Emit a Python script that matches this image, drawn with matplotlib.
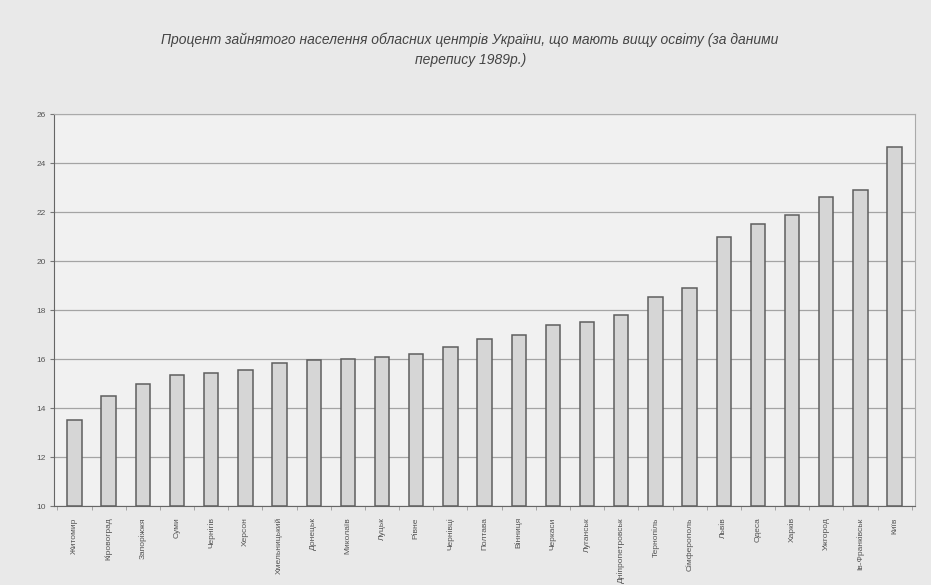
import matplotlib
matplotlib.use("Agg")
import matplotlib.pyplot as plt
import numpy as np

cities = ["Житомир", "Кіровоград", "Запоріжжя", "Суми", "Чернігів", "Херсон",
          "Хмельницький", "Донецьк", "Миколаїв", "Луцьк", "Рівне", "Чернівці",
          "Полтава", "Вінниця", "Черкаси", "Луганськ", "Дніпропетровськ",
          "Тернопіль", "Сімферополь", "Львів", "Одеса", "Харків", "Ужгород",
          "Ів-Франківськ", "Київ"]
values = [13.5, 14.5, 15.0, 15.35, 15.45, 15.55, 15.85, 15.95, 16.0, 16.1,
          16.2, 16.5, 16.8, 17.0, 17.4, 17.5, 17.8, 18.55, 18.9, 21.0, 21.5,
          21.9, 22.6, 22.9, 24.65]
yticks = [10, 12, 14, 16, 18, 20, 22, 24, 26]
title = "Процент зайнятого населення обласних центрів України, що мають вищу освіту (за даними\nперепису 1989р.)"

plt.rcParams['font.family'] = ['Liberation Sans', 'DejaVu Sans']

fig = plt.figure(figsize=(9.31, 5.85), dpi=100)
fig.patch.set_facecolor('#e9e9e9')
ax = fig.add_axes([0.058, 0.135, 0.925, 0.67])
ax.set_facecolor('#f1f1f1')

x = np.arange(len(cities))
ax.bar(x, [v - 10 for v in values], bottom=10, width=0.42, color='#d6d6d6',
       edgecolor='#5e5e5e', linewidth=1.1, zorder=3)

ax.set_ylim(10, 26)
ax.set_xlim(-0.6, len(cities) - 0.4)
ax.set_yticks(yticks)
ax.set_yticklabels([str(t) for t in yticks], fontsize=6, color='#555555')
ax.yaxis.grid(True, color='#a4a4a4', linewidth=0.9, zorder=0)
ax.tick_params(axis='y', length=3, color='#777777', pad=3)

ax.set_xticks(x)
ax.set_xticklabels(cities, rotation=90, fontsize=6, color='#555555')
ax.tick_params(axis='x', length=0, pad=8)
ax.set_xticks(np.arange(len(cities) + 1) - 0.5, minor=True)
ax.tick_params(axis='x', which='minor', length=3, color='#999999')

for side in ['top', 'right']:
    ax.spines[side].set_color('#aaaaaa')
    ax.spines[side].set_linewidth(0.8)
ax.spines['left'].set_color('#666666')
ax.spines['bottom'].set_color('#666666')

fig.text(0.505, 0.945, title, ha='center', va='top', fontsize=10,
         style='italic', color='#444444', linespacing=1.55)

fig.savefig("out.png", dpi=100, facecolor=fig.get_facecolor())
